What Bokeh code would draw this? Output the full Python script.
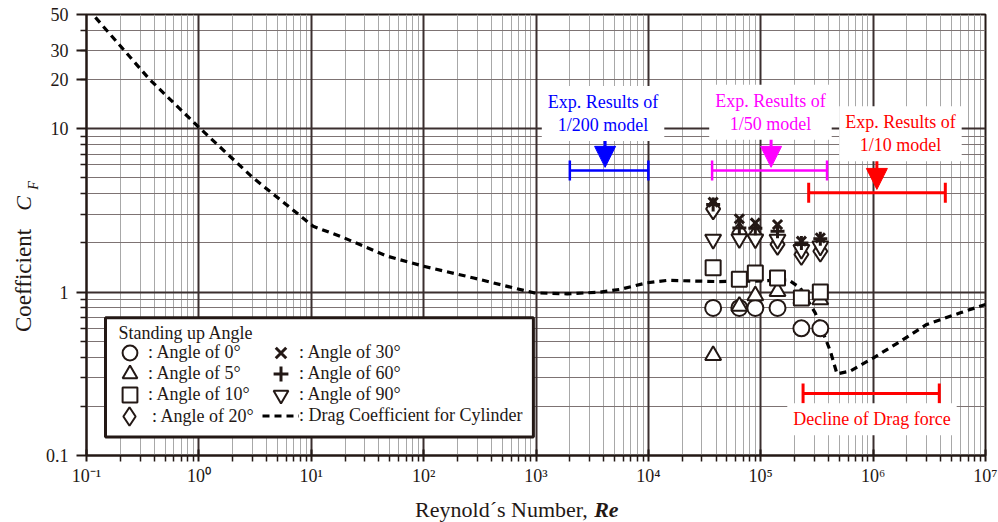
import math
from bokeh.plotting import figure
from bokeh.layouts import row, column
from bokeh.core.properties import value
from bokeh.models import (FixedTicker, Grid, Legend, LegendItem, Label, Arrow,
                          NormalHead, Whisker, TeeHead, ColumnDataSource,
                          BoxAnnotation, Range1d)
from bokeh.embed import file_html
from bokeh.resources import INLINE

# ---------------- data ----------------
re_points = [3.77e4, 6.45e4, 8.95e4, 1.41e5, 2.30e5, 3.39e5]
cf_angle0 = [0.80, 0.80, 0.80, 0.80, 0.60, 0.60]
cf_angle5 = [0.41, 0.82, 0.95, 1.01, 0.91, 0.90]
cf_angle10 = [1.41, 1.20, 1.31, 1.22, 0.92, 1.00]
cf_angle20 = [3.23, 2.31, 2.20, 1.96, 1.70, 1.78]
cf_angle30 = [3.55, 2.81, 2.65, 2.59, 2.05, 2.15]
cf_angle60 = [3.44, 2.47, 2.46, 2.36, 2.00, 2.12]
cf_angle90 = [2.10, 2.12, 2.11, 2.10, 1.82, 1.91]

re_drag = [0.12, 0.365, 1.0, 3.04, 10.4, 19.5, 47.3, 100, 279, 635, 955, 1890,
           3740, 5640, 9730, 1.47e4, 4.08e4, 1.0e5, 1.76e5, 2.25e5, 3.06e5,
           4.16e5, 4.77e5, 6.27e5, 1.0e6, 1.75e6, 3.0e6, 5.97e6, 1.0e7]
cf_drag = [48.0, 20.0, 10.2, 5.0, 2.53, 2.15, 1.66, 1.44, 1.22, 1.06, 0.99, 0.976,
           1.0, 1.04, 1.14, 1.18, 1.16, 1.17, 1.19, 1.06, 0.744, 0.436, 0.316,
           0.329, 0.395, 0.50, 0.634, 0.747, 0.84]

x_decades = [0.1, 1.0, 10.0, 100.0, 1e3, 1e4, 1e5, 1e6, 1e7]
x_tick_labels = ["10\u207b\u00b9", "10\u2070", "10\u00b9", "10\u00b2", "10\u00b3",
                 "10\u2074", "10\u2075", "10\u2076", "10\u2077"]
y_ticks = [0.1, 1.0, 10.0, 20.0, 30.0, 50.0]
y_tick_labels = ["0.1", "1", "10", "20", "30", "50"]

# experiment ranges (Re from, Re to, C_F level)
range_1_200 = [2.0e3, 1.0e4, 5.55]
range_1_50 = [3.69e4, 3.89e5, 5.55]
range_1_10 = [2.67e5, 4.39e6, 4.05]
range_decline = [2.38e5, 3.88e6, 0.24]

legend_title = "Standing up Angle"
legend_labels = [": Angle of 0\u00b0", ": Angle of 5\u00b0", ": Angle of 10\u00b0",
                 ": Angle of 20\u00b0", ": Angle of 30\u00b0", ": Angle of 60\u00b0",
                 ": Angle of 90\u00b0", ": Drag Coefficient for Cylinder"]

# ---------------- styling ----------------
DARK = "#231815"
FONT = "Liberation Serif"
BLUE = "#0000ff"
MAGENTA = "#ff00ff"
RED = "#ff0000"

minor_x = [k * d for d in x_decades[:-1] for k in range(2, 10)]
minor_y = [k * d for d in [0.1, 1.0, 10.0] for k in range(2, 10) if k * d < 50]

p = figure(width=958, height=490, x_axis_type="log", y_axis_type="log",
           x_range=(0.1, 1e7), y_range=(0.1, 50),
           output_backend="svg", toolbar_location=None,
           min_border_left=46, min_border_right=13, min_border_top=14,
           min_border_bottom=35)
p.background_fill_color = "white"
p.border_fill_color = "white"
p.outline_line_color = DARK
p.outline_line_width = 2
p.xgrid.visible = False
p.ygrid.visible = False

# grids
p.add_layout(Grid(dimension=0, ticker=FixedTicker(ticks=minor_x),
                  grid_line_color="#a8a8a8", grid_line_width=1))
p.add_layout(Grid(dimension=1, ticker=FixedTicker(ticks=minor_y),
                  grid_line_color="#7d7373", grid_line_width=1))
p.add_layout(Grid(dimension=0, ticker=FixedTicker(ticks=x_decades),
                  grid_line_color="#3b2f2f", grid_line_width=2))
p.add_layout(Grid(dimension=1, ticker=FixedTicker(ticks=[0.1, 1.0, 10.0]),
                  grid_line_color="#3b2f2f", grid_line_width=2))

# axes
xa = p.xaxis[0]
xa.ticker = FixedTicker(ticks=x_decades, minor_ticks=minor_x)
xa.major_label_overrides = dict(zip(x_decades, x_tick_labels))
xa.major_tick_in = 6
xa.major_tick_out = 6
xa.minor_tick_in = 0
xa.minor_tick_out = 6
xa.major_label_standoff = 4

ya = p.yaxis[0]
ya.ticker = FixedTicker(ticks=y_ticks, minor_ticks=minor_y)
ya.major_label_overrides = dict(zip(y_ticks, y_tick_labels))
ya.major_tick_in = 0
ya.major_tick_out = 10
ya.minor_tick_in = 0
ya.minor_tick_out = 6
ya.major_label_standoff = 8

for ax in (xa, ya):
    ax.axis_line_color = DARK
    ax.axis_line_width = 2
    ax.major_tick_line_color = DARK
    ax.major_tick_line_width = 2
    ax.minor_tick_line_color = DARK
    ax.minor_tick_line_width = 1.5
    ax.major_label_text_font = FONT
    ax.major_label_text_font_size = "18px"
    ax.major_label_text_color = DARK

# legend box (drawn first, under the legend entries)
p.add_layout(BoxAnnotation(left=0.1476, right=948, top=0.697, bottom=0.1297,
                           fill_color="white", fill_alpha=1,
                           line_color=DARK, line_width=3, line_alpha=1))

# drag curve
r_drag = p.line(re_drag, cf_drag, line_color="black", line_width=3.2,
                line_dash="7 5")

mk = dict(line_color=DARK, fill_color="white", line_width=2)
r0 = p.scatter(re_points, cf_angle0, marker="circle", size=16, **mk)
r5 = p.scatter(re_points, cf_angle5, marker="triangle", size=16, **mk)
r10 = p.scatter(re_points, cf_angle10, marker="square", size=15, **mk)
r20 = p.scatter(re_points, cf_angle20, marker="diamond", size=21, **mk)
r90 = p.scatter(re_points, cf_angle90, marker="inverted_triangle", size=16, **mk)
r30 = p.scatter(re_points, cf_angle30, marker="x", size=13, line_color=DARK,
                line_width=3)
r60 = p.scatter(re_points, cf_angle60, marker="cross", size=14, line_color=DARK,
                line_width=3)

# ranges with end caps
def add_range(vals, color, width):
    src = ColumnDataSource(dict(base=[vals[2]], lower=[vals[0]], upper=[vals[1]]))
    w = Whisker(source=src, base="base", lower="lower", upper="upper",
                dimension="width", line_color=color, line_width=width,
                lower_head=TeeHead(size=20, line_color=color, line_width=width),
                upper_head=TeeHead(size=20, line_color=color, line_width=width))
    p.add_layout(w)

add_range(range_1_200, BLUE, 2.5)
add_range(range_1_50, MAGENTA, 2.5)
add_range(range_1_10, RED, 3)
add_range(range_decline, RED, 3)

def add_arrow(x, y0, y1, color):
    p.add_layout(Arrow(x_start=x, y_start=y0, x_end=x, y_end=y1,
                       line_color=color, line_width=3,
                       end=NormalHead(size=21, fill_color=color, line_color=color)))

add_arrow(4120, 9.25, 5.8, BLUE)
add_arrow(1.236e5, 9.65, 5.8, MAGENTA)
add_arrow(1.08e6, 6.79, 4.25, RED)

def add_note(x, y, text, color):
    p.add_layout(Label(x=x, y=y, text=text, text_align="center",
                       text_baseline="middle", text_font=FONT,
                       text_font_size="18px", text_color=color,
                       text_line_height=1.15, background_fill_color="white",
                       padding=6))

add_note(3950, 12.4, "Exp. Results of\n1/200 model", BLUE)
add_note(1.22e5, 12.6, "Exp. Results of\n1/50 model", MAGENTA)
add_note(1.75e6, 9.3, "Exp. Results of\n1/10 model", RED)
add_note(9.77e5, 0.1665, "Decline of Drag force", RED)

# legend: one small legend per entry, inside the box
p.add_layout(Label(x=0.1926, y=0.5637, text=legend_title, text_align="left",
                   text_baseline="middle", text_font=FONT,
                   text_font_size="18px", text_color=DARK))
leg_style = dict(label_text_font=FONT, label_text_font_size="18px",
                 label_text_color=DARK, label_standoff=0,
                 spacing=0, padding=0, margin=0,
                 border_line_alpha=0, background_fill_alpha=0)
renderers = [r0, r5, r10, r20, r30, r60, r90, r_drag]
row_centers = [352.7, 373.3, 394.0, 415.7]   # screen rows of the entries
col_centers = [129.5, 280.5]                 # screen x of the symbols
for i, (lab, rend) in enumerate(zip(legend_labels, renderers)):
    g = 46 if rend is r20 else 37
    cx = col_centers[i // 4]
    cy = row_centers[i % 4]
    loc = (round(cx - g / 2 - 86), round(455 - cy - g / 2))
    p.add_layout(Legend(items=[LegendItem(label=lab, renderers=[rend])],
                        location=loc, glyph_width=g, glyph_height=g,
                        label_height=g, **leg_style), "center")

# ---------------- axis titles (separate strips) ----------------
def strip(w, h, xr, yr):
    f = figure(width=w, height=h, x_range=Range1d(*xr), y_range=Range1d(*yr),
               output_backend="svg", toolbar_location=None,
               x_axis_location=None, y_axis_location=None,
               min_border=0, outline_line_color=None)
    f.grid.visible = False
    f.background_fill_color = "white"
    f.border_fill_color = "white"
    return f

left = strip(40, 522, (0, 40), (522, 0))
left.text(x=[23], y=[280], text=["Coefficient"], angle=math.pi / 2,
          text_align="center", text_baseline="middle",
          text_font=value(FONT), text_font_size="23px", text_color=DARK)
left.text(x=[23], y=[203], text=["C"], angle=math.pi / 2,
          text_align="center", text_baseline="middle",
          text_font=value(FONT), text_font_size="22px",
          text_font_style="italic", text_color=DARK)
left.text(x=[33], y=[185], text=["F"], angle=math.pi / 2,
          text_align="center", text_baseline="middle",
          text_font=value(FONT), text_font_size="14px",
          text_font_style="italic", text_color=DARK)

bottom = strip(958, 32, (40, 998), (522, 490))
bottom.text(x=[580], y=[509], text=["Reynold\u00b4s Number, "],
            text_align="right", text_baseline="middle",
            text_font=value(FONT), text_font_size="22px", text_color=DARK)
bottom.text(x=[581], y=[509], text=["Re"],
            text_align="left", text_baseline="middle",
            text_font=value(FONT), text_font_size="22px",
            text_font_style="bold italic", text_color=DARK)

layout = row(left, column(p, bottom, spacing=0), spacing=0)

open("out.html", "w").write(file_html(layout, INLINE))
